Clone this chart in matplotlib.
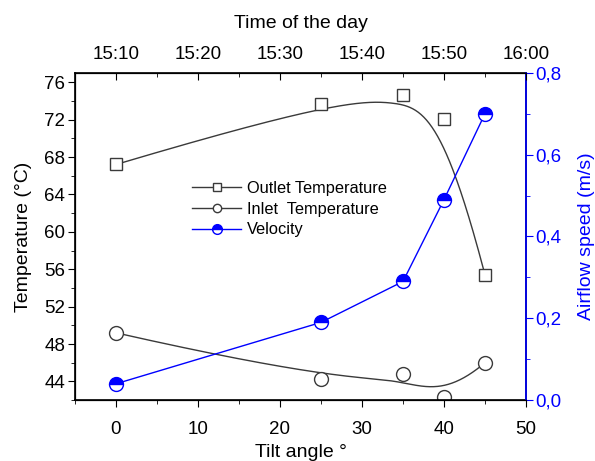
import numpy as np
import matplotlib
matplotlib.use("Agg")
import matplotlib.pyplot as plt
from matplotlib.ticker import MultipleLocator, FuncFormatter

plt.rcParams['font.family'] = ['Liberation Sans', 'DejaVu Sans']

# dados
tilt = [0, 25, 35, 40, 45]
outlet_temp = [67.2, 73.7, 74.6, 72.1, 55.4]
inlet_temp = [49.2, 44.25, 44.8, 42.3, 46.0]
velocity = [0.04, 0.19, 0.29, 0.49, 0.70]

time_ticks = [0, 10, 20, 30, 40, 50]
time_labels = ['15:10', '15:20', '15:30', '15:40', '15:50', '16:00']


# curva B-spline (como no Origin) usando os pontos como controle
def bspline(xs, ys, deg=3, num=300):
    P = np.column_stack([xs, ys])
    n = len(P)
    inner = np.linspace(0, 1, n - deg + 1)
    knots = np.concatenate([[0] * deg, inner, [1] * deg])
    t = np.linspace(0, 1, num)
    t[-1] -= 1e-9
    N = np.zeros((num, len(knots) - 1))
    for i in range(len(knots) - 1):
        N[:, i] = (t >= knots[i]) & (t < knots[i + 1])
    for k in range(1, deg + 1):
        Nn = np.zeros((num, len(knots) - 1 - k))
        for i in range(len(knots) - 1 - k):
            d1 = knots[i + k] - knots[i]
            d2 = knots[i + k + 1] - knots[i + 1]
            term = np.zeros(num)
            if d1 > 0:
                term = term + (t - knots[i]) / d1 * N[:, i]
            if d2 > 0:
                term = term + (knots[i + k + 1] - t) / d2 * N[:, i + 1]
            Nn[:, i] = term
        N = Nn
    c = N @ P
    return c[:, 0], c[:, 1]


fs_tick = 13.5
fs_lab = 14

fig = plt.figure(figsize=(5.95, 4.61), dpi=100)
ax = fig.add_axes([0.126, 0.132, 0.758, 0.710])

gray = '#3a3a3a'
blue = '#0000ff'

cx, cy = bspline(tilt, outlet_temp)
ax.plot(cx, cy, color=gray, lw=1)
ax.plot(tilt, outlet_temp, 's', ms=9, mfc='white', mec=gray, mew=1)
cx, cy = bspline(tilt, inlet_temp)
ax.plot(cx, cy, color=gray, lw=1)
ax.plot(tilt, inlet_temp, 'o', ms=10, mfc='white', mec=gray, mew=1)

ax.set_xlim(-5, 50)
ax.set_ylim(42, 77)
ax.xaxis.set_major_locator(MultipleLocator(10))
ax.xaxis.set_minor_locator(MultipleLocator(5))
ax.yaxis.set_major_locator(MultipleLocator(4))
ax.yaxis.set_minor_locator(MultipleLocator(2))
ax.set_ylim(42, 77)
ax.tick_params(which='both', direction='out', labelsize=fs_tick, top=False, right=False)
ax.tick_params(which='major', length=5, pad=2)
ax.tick_params(axis='x', which='major', pad=10)
ax.tick_params(which='minor', length=3)
ax.set_xlabel('Tilt angle °', fontsize=fs_lab, labelpad=4)
ax.set_ylabel('Temperature (°C)', fontsize=fs_lab, labelpad=9)
for s in ax.spines.values():
    s.set_linewidth(1.2)

# eixo direito - velocidade
ax2 = ax.twinx()
ax2.plot(tilt, velocity, color=blue, lw=1, marker='o', ms=10, fillstyle='top',
         mfc=blue, mfcalt='white', mec=blue, mew=1)
ax2.set_ylim(0, 0.8)
ax2.yaxis.set_major_locator(MultipleLocator(0.2))
ax2.yaxis.set_minor_locator(MultipleLocator(0.1))
ax2.yaxis.set_major_formatter(FuncFormatter(lambda v, p: f'{v:.1f}'.replace('.', ',')))
ax2.tick_params(which='both', direction='out', colors=blue, labelsize=fs_tick)
ax2.tick_params(which='major', length=5, pad=2)
ax2.tick_params(which='minor', length=3)
ax2.spines['right'].set_color(blue)
ax2.spines['right'].set_linewidth(1.2)
ax2.set_ylabel('Airflow speed (m/s)', fontsize=fs_lab, color=blue, labelpad=12)

# eixo de cima - horario
ax3 = ax.twiny()
ax3.set_xlim(ax.get_xlim())
ax3.set_xticks(time_ticks)
ax3.set_xticklabels(time_labels)
ax3.xaxis.set_minor_locator(MultipleLocator(5))
ax3.tick_params(which='both', direction='in', labelsize=fs_tick, pad=7)
ax3.tick_params(which='major', length=5)
ax3.tick_params(which='minor', length=3)
ax3.set_xlabel('Time of the day', fontsize=fs_lab, labelpad=13)
ax3.spines['right'].set_visible(False)

# legenda
h1 = plt.Line2D([], [], color=gray, lw=1, marker='s', ms=6, mfc='white', mec=gray)
h2 = plt.Line2D([], [], color=gray, lw=1, marker='o', ms=6, mfc='white', mec=gray)
h3 = plt.Line2D([], [], color=blue, lw=1, marker='o', ms=7, fillstyle='top',
                mfc=blue, mfcalt='white', mec=blue)
ax3.legend([h1, h2, h3], ['Outlet Temperature', 'Inlet  Temperature', 'Velocity'],
           loc='upper left', bbox_to_anchor=(0.245, 0.69), frameon=False, fontsize=11.8,
           handlelength=3.0, handletextpad=0.35, labelspacing=0.35, borderaxespad=0)

fig.savefig('out.png', dpi=100)
